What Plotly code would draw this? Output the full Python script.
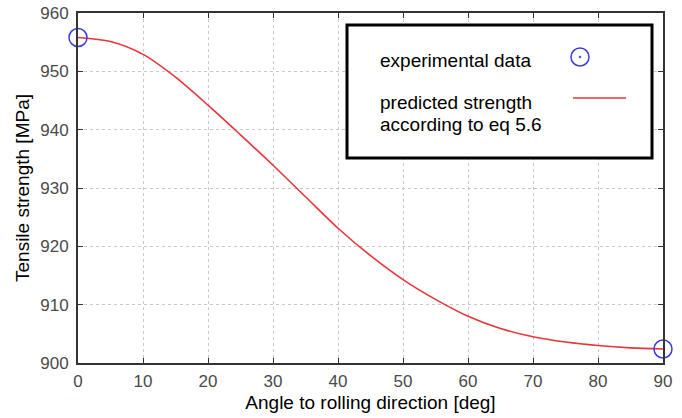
import plotly.graph_objects as go

# Data
angle_model = [0, 5, 10, 15, 20, 25, 30, 35, 40, 45, 50, 55, 60, 65, 70, 75, 80, 85, 90]
strength_model = [955.8, 955.1, 952.9, 949.0, 944.2, 939.1, 933.9, 928.5, 923.1, 918.4,
                  914.3, 910.9, 908.0, 905.9, 904.5, 903.6, 903.0, 902.6, 902.4]
angle_exp = [0, 90]
strength_exp = [955.8, 902.4]
x_ticks = [0, 10, 20, 30, 40, 50, 60, 70, 80, 90]
y_ticks = [900, 910, 920, 930, 940, 950, 960]

RED = "#e8353a"
BLUE = "#3b3bdc"
FONT = "Arial, Liberation Sans"

fig = go.Figure()
fig.add_trace(go.Scatter(x=angle_model, y=strength_model, mode="lines",
                         line=dict(color=RED, width=1.6, shape="spline", smoothing=0.8),
                         showlegend=False, cliponaxis=False))
fig.add_trace(go.Scatter(x=angle_exp, y=strength_exp, mode="markers",
                         marker=dict(symbol="circle-open", size=18, color=BLUE,
                                     line=dict(width=1.5, color=BLUE)),
                         showlegend=False, cliponaxis=False))

axis_common = dict(showline=True, linecolor="#333333", linewidth=1.8, mirror="ticks",
                   ticks="inside", ticklen=5, tickcolor="#333333", tickwidth=1,
                   showgrid=True, gridcolor="#c8c8c8", griddash="dot", gridwidth=1,
                   zeroline=False, automargin=False,
                   tickfont=dict(family=FONT, size=17, color="#4a4a4a"))

fig.update_xaxes(range=[0, 90], tickvals=x_ticks,
                 title=dict(text="Angle to rolling direction [deg]",
                            font=dict(family=FONT, size=19, color="#000000"),
                            standoff=5),
                 ticklabelstandoff=2,
                 **axis_common)
fig.update_yaxes(range=[900, 960], tickvals=y_ticks,
                 title=dict(text="Tensile strength [MPa]",
                            font=dict(family=FONT, size=19, color="#000000"),
                            standoff=6),
                 ticklabelstandoff=4,
                 **axis_common)

# Manual legend box (key, matching the reference layout)
W, H = 682, 418
ml, mr, mt, mb = 78, 19, 13, 55
pw, ph = W - ml - mr, H - mt - mb

def px_x(p):
    return (p - ml) / pw

def px_y(p):
    return 1 - (p - mt) / ph

shapes = [
    dict(type="rect", xref="paper", yref="paper",
         x0=px_x(347), x1=px_x(652), y0=px_y(158), y1=px_y(25),
         line=dict(color="black", width=3), fillcolor="white", layer="above"),
    dict(type="circle", xref="paper", yref="paper",
         x0=px_x(571), x1=px_x(589), y0=px_y(66), y1=px_y(48),
         line=dict(color=BLUE, width=1.5), layer="above"),
    dict(type="circle", xref="paper", yref="paper",
         x0=px_x(579), x1=px_x(581), y0=px_y(58), y1=px_y(56),
         line=dict(color=BLUE, width=0.5), fillcolor=BLUE, layer="above"),
    dict(type="line", xref="paper", yref="paper",
         x0=px_x(573), x1=px_x(626), y0=px_y(98), y1=px_y(98),
         line=dict(color=RED, width=1.6), layer="above"),
]
legend_font = dict(family=FONT, size=19, color="#000000")
annotations = [
    dict(text="experimental data", xref="paper", yref="paper", x=px_x(378), y=px_y(60),
         xanchor="left", yanchor="middle", showarrow=False, font=legend_font),
    dict(text="predicted strength", xref="paper", yref="paper",
         x=px_x(378), y=px_y(103), xanchor="left", yanchor="middle",
         showarrow=False, font=legend_font),
    dict(text="according to eq 5.6", xref="paper", yref="paper",
         x=px_x(378), y=px_y(124), xanchor="left", yanchor="middle",
         showarrow=False, font=legend_font),
]

fig.update_layout(width=W, height=H, margin=dict(l=ml, r=mr, t=mt, b=mb),
                  paper_bgcolor="white", plot_bgcolor="white",
                  shapes=shapes, annotations=annotations, showlegend=False)

fig.write_html("out.html", config={"displayModeBar": False},
               post_script="document.body.style.margin='0';")
